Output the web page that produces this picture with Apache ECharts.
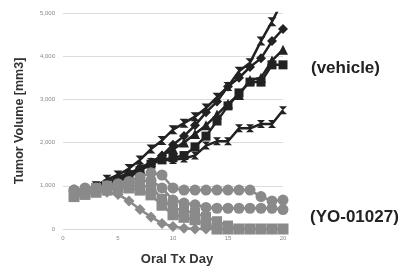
<!DOCTYPE html>
<html>
<head>
<meta charset="utf-8">
<script src="https://cdn.jsdelivr.net/npm/echarts@6/dist/echarts.min.js"></script>
<style>
  html, body { margin: 0; padding: 0; background: #fff; }
  #chart { width: 404px; height: 271px; }
</style>
</head>
<body>
<div id="chart"></div>
<script>
// Days of oral treatment
var days = [1, 2, 3, 4, 5, 6, 7, 8, 9, 10, 11, 12, 13, 14, 15, 16, 17, 18, 19, 20];

// vehicle group (black)
var vehA = [800, 900, 1000, 1150, 1250, 1400, 1600, 1850, 2050, 2300, 2450, 2600, 2800, 3050, 3300, 3650, 3850, 4350, 4800, 5300];
var vehB = [850, 900, 980, 1080, 1200, 1300, 1400, 1500, 1700, 1950, 2150, 2400, 2700, 2950, 3300, 3500, 3750, 3950, 4350, 4630];
var vehC = [800, 900, 1000, 1100, 1150, 1250, 1400, 1550, 1700, 1850, 2000, 2200, 2400, 2650, 2900, 3100, 3450, 3500, 3900, 4150];
var vehD = [750, 800, 900, 1000, 1100, 1200, 1350, 1500, 1600, 1650, 1700, 1900, 2150, 2500, 2850, 3150, 3400, 3400, 3800, 3800];
var vehE = [850, 900, 950, 1050, 1150, 1250, 1400, 1550, 1600, 1600, 1630, 1700, 1930, 2030, 2030, 2330, 2330, 2430, 2430, 2750];

// YO-01027 group (gray)
var yoA = [900, 950, 950, 1000, 1050, 1100, 1200, 1300, 1250, 950, 900, 900, 900, 900, 900, 900, 900, 750, 650, 670];
var yoB = [900, 850, 900, 950, 1000, 1050, 1100, 1130, 950, 670, 600, 560, 500, 480, 480, 480, 480, 480, 480, 450];
var yoC = [800, 850, 900, 850, 800, 650, 450, 280, 130, 60, 20, 0, 0, 0, 0, 0, 0, 0, 0, 0];
var yoD = [750, 800, 850, 900, 950, 950, 900, 790, 550, 330, 270, 215, 100, 0, 0, 0, 0, 0, 0, 0];
var yoE = [850, 900, 950, 1000, 1000, 1000, 1000, 985, 700, 480, 430, 370, 280, 180, 80, 0, 0, 0, 0, 0];

var xTicks = [0, 5, 10, 15, 20];

var bowtie = 'path://M0,0L10,0L0,10L10,10Z';

function pairs(vals) {
  return days.map(function (d, i) { return [d, vals[i]]; });
}

function mkSeries(vals, color, symbol, size, z) {
  return {
    type: 'line',
    data: pairs(vals),
    symbol: symbol,
    symbolSize: size,
    z: z,
    lineStyle: { color: color, width: 2.5 },
    itemStyle: { color: color, borderColor: color, borderWidth: 0 },
    emphasis: { disabled: true },
    clip: true
  };
}

var black = '#222222';
var gray = '#8a8a8a';

var chart = echarts.init(document.getElementById('chart'));
var option = {
  animation: false,
  backgroundColor: '#ffffff',
  grid: { left: 63, right: 121, top: 13, bottom: 40 },
  xAxis: {
    type: 'value',
    min: 0, max: 20, interval: 5,
    name: 'Oral Tx Day',
    nameLocation: 'middle',
    nameGap: 24,
    nameTextStyle: { fontFamily: 'Liberation Sans', fontWeight: 'bold', fontSize: 13, color: '#333', padding: [0, 0, 0, 8] },
    axisLine: { lineStyle: { color: '#d9d9d9' } },
    axisTick: { show: false },
    splitLine: { show: false },
    axisLabel: {
      fontSize: 6, color: '#888', margin: 6, fontFamily: 'Liberation Sans',
      formatter: function (v) { return xTicks.indexOf(v) >= 0 ? String(v) : ''; }
    }
  },
  yAxis: {
    type: 'value',
    min: 0, max: 5000, interval: 1000,
    name: 'Tumor Volume [mm3]',
    nameLocation: 'middle',
    nameGap: 37,
    nameTextStyle: { fontFamily: 'Liberation Sans', fontWeight: 'bold', fontSize: 12.5, color: '#333' },
    axisLine: { show: false },
    axisTick: { show: false },
    splitLine: { lineStyle: { color: '#dcdcdc' } },
    axisLabel: { fontSize: 6, color: '#888', margin: 8, fontFamily: 'Liberation Sans' }
  },
  graphic: [
    { type: 'text', left: 311, top: 60, style: { text: '(vehicle)', fontFamily: 'Liberation Sans', fontWeight: 'bold', fontSize: 17, fill: '#222' } },
    { type: 'text', left: 310, top: 209, style: { text: '(YO-01027)', fontFamily: 'Liberation Sans', fontWeight: 'bold', fontSize: 17, fill: '#222' } }
  ],
  series: [
    mkSeries(vehE, black, bowtie, 8, 2),
    mkSeries(vehD, black, 'rect', 9, 2),
    mkSeries(vehC, black, 'triangle', 10, 2),
    mkSeries(vehB, black, 'diamond', 10, 2),
    mkSeries(vehA, black, bowtie, 9, 2),
    mkSeries(yoE, gray, 'rect', 10, 3),
    mkSeries(yoD, gray, 'rect', 11, 3),
    mkSeries(yoC, gray, 'diamond', 11, 3),
    mkSeries(yoB, gray, 'circle', 11, 3),
    mkSeries(yoA, gray, 'circle', 11, 3)
  ]
};
chart.setOption(option);
</script>
</body>
</html>
